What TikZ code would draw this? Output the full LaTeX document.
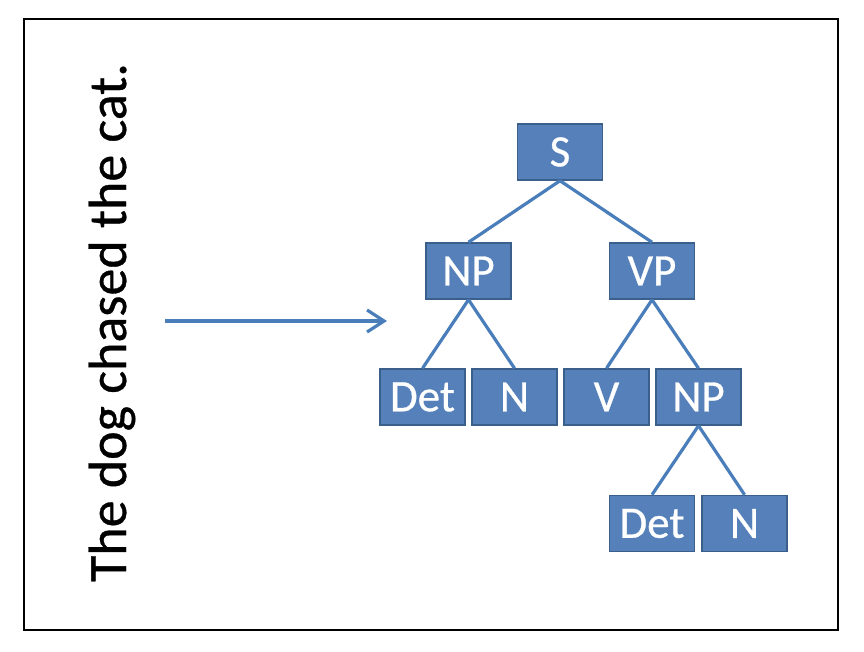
\documentclass[tikz,border=0pt]{standalone}
\usepackage{fontspec}
\setmainfont{Carlito}
\usetikzlibrary{arrows.meta}
\definecolor{boxblue}{HTML}{5580B9}
\definecolor{boxedge}{HTML}{3A5F8B}
\definecolor{linkblue}{HTML}{4A7EBB}

\begin{document}
\begin{tikzpicture}[x=1pt, y=-1pt,
    cat/.style={draw=boxedge, line width=1.5pt, fill=boxblue, text=white,
      minimum width=85pt, minimum height=56pt, inner sep=0pt,
      font=\fontsize{45}{45}\selectfont\addfontfeature{FakeBold=0.6}},
    link/.style={draw=linkblue, line width=3.2pt}]
    \useasboundingbox (0,0) rectangle (864,652);
    \draw[line width=1.2pt] (24,19) rectangle (838,630);
    \node[rotate=90, anchor=base,
      font=\fontsize{54}{54}\selectfont\addfontfeature{FakeBold=0.6}]
      (sent) at (126, 322.5) {The dog chased the cat.};
    \coordinate (from) at (165, 321);
    \coordinate (to) at (387, 321);
    \node[cat] (s) at (560, 152) {S};
    \node[cat] (np) at (468.5, 271) {NP};
    \node[cat] (vp) at (652, 271) {VP};
    \node[cat] (det) at (422.5, 397) {Det};
    \node[cat] (n) at (514.5, 397) {N};
    \node[cat] (v) at (606.5, 397) {V};
    \node[cat] (np2) at (698.5, 397) {NP};
    \node[cat] (det2) at (652, 523.5) {Det};
    \node[cat] (n2) at (744.5, 523.5) {N};
    \draw[link, -{Straight Barb[length=17pt, width=22pt]}] (from) -- (to);
    \draw[link] (s.south) -- (np.north);
    \draw[link] (s.south) -- (vp.north);
    \draw[link] (np.south) -- (det.north);
    \draw[link] (np.south) -- (n.north);
    \draw[link] (vp.south) -- (v.north);
    \draw[link] (vp.south) -- (np2.north);
    \draw[link] (np2.south) -- (det2.north);
    \draw[link] (np2.south) -- (n2.north);
  \end{tikzpicture}
\end{document}
